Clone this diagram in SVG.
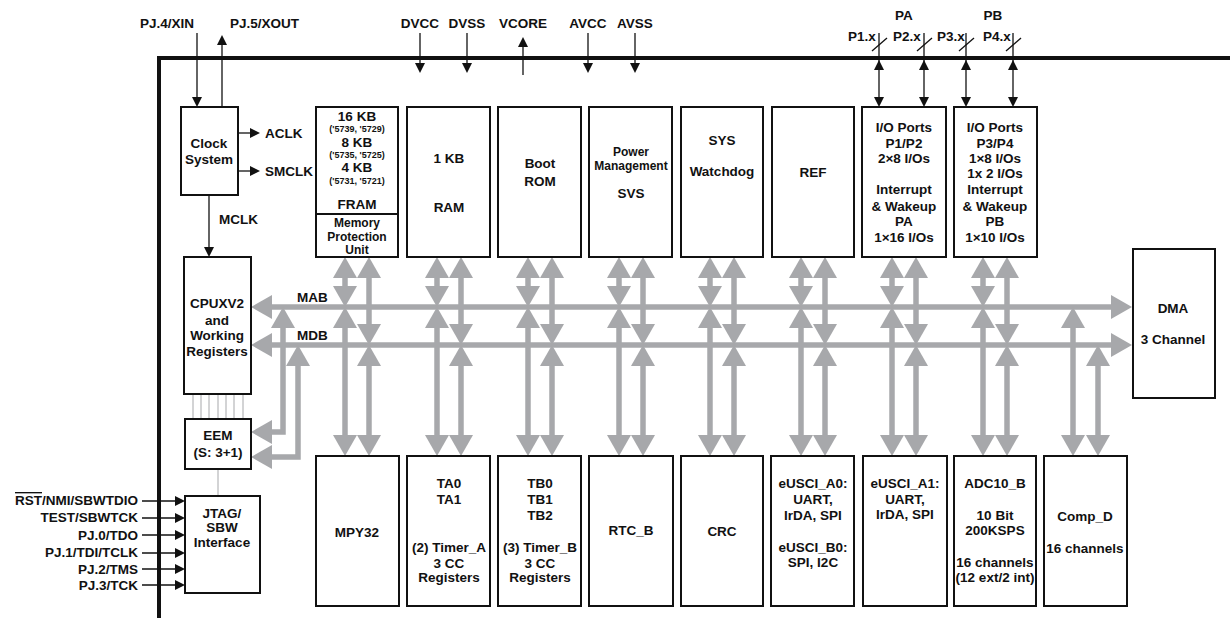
<svg xmlns="http://www.w3.org/2000/svg" width="1230" height="618" viewBox="0 0 1230 618">
<style>
text{font-family:"Liberation Sans",Arial,sans-serif;font-weight:bold;font-size:13.5px;fill:#111;}
.c{text-anchor:middle;}
.r{text-anchor:end;}
.s{font-size:9px;}
.m{font-size:12px;}
.box{fill:#fff;stroke:#111;stroke-width:2;}
.bus{stroke:#a7a8ab;stroke-width:5.5;fill:none;}
.bl{stroke:#111;stroke-width:1.3;fill:none;}
.thin{stroke:#a7a8ab;stroke-width:1;}
</style>
<defs>
<marker id="g" markerUnits="userSpaceOnUse" markerWidth="22" markerHeight="24" refX="0" refY="12" orient="auto-start-reverse" viewBox="0 0 22 24"><path d="M0,0 L21,12 L0,24 z" fill="#a7a8ab"/></marker>
<marker id="b" markerUnits="userSpaceOnUse" markerWidth="11" markerHeight="10" refX="0" refY="5" orient="auto-start-reverse" viewBox="0 0 11 10"><path d="M0,0 L10,5 L0,10 z" fill="#111"/></marker>
</defs>
<rect width="1230" height="618" fill="#fff"/>

<!-- chip boundary -->
<g id="chip">
<line x1="157" y1="58" x2="1230" y2="58" stroke="#111" stroke-width="4"/>
<line x1="159" y1="56" x2="159" y2="618" stroke="#111" stroke-width="4"/>
</g>

<!-- connectors -->
<g id="connectors">
<!-- buses -->
<line class="bus" x1="272" y1="307" x2="1111" y2="307" marker-start="url(#g)" marker-end="url(#g)"/>
<line class="bus" x1="272" y1="345" x2="1111" y2="345" marker-start="url(#g)" marker-end="url(#g)"/>
<!-- column verticals -->
<g class="bus">
<line x1="345" y1="278" x2="345" y2="286" marker-start="url(#g)" marker-end="url(#g)"/>
<line x1="345" y1="328" x2="345" y2="435" marker-start="url(#g)" marker-end="url(#g)"/>
<line x1="369" y1="278" x2="369" y2="324" marker-start="url(#g)" marker-end="url(#g)"/>
<line x1="369" y1="366" x2="369" y2="435" marker-start="url(#g)" marker-end="url(#g)"/>

<line x1="437" y1="278" x2="437" y2="286" marker-start="url(#g)" marker-end="url(#g)"/>
<line x1="437" y1="328" x2="437" y2="435" marker-start="url(#g)" marker-end="url(#g)"/>
<line x1="461" y1="278" x2="461" y2="324" marker-start="url(#g)" marker-end="url(#g)"/>
<line x1="461" y1="366" x2="461" y2="435" marker-start="url(#g)" marker-end="url(#g)"/>

<line x1="528" y1="278" x2="528" y2="286" marker-start="url(#g)" marker-end="url(#g)"/>
<line x1="528" y1="328" x2="528" y2="435" marker-start="url(#g)" marker-end="url(#g)"/>
<line x1="552" y1="278" x2="552" y2="324" marker-start="url(#g)" marker-end="url(#g)"/>
<line x1="552" y1="366" x2="552" y2="435" marker-start="url(#g)" marker-end="url(#g)"/>

<line x1="619" y1="278" x2="619" y2="286" marker-start="url(#g)" marker-end="url(#g)"/>
<line x1="619" y1="328" x2="619" y2="435" marker-start="url(#g)" marker-end="url(#g)"/>
<line x1="643" y1="278" x2="643" y2="324" marker-start="url(#g)" marker-end="url(#g)"/>
<line x1="643" y1="366" x2="643" y2="435" marker-start="url(#g)" marker-end="url(#g)"/>

<line x1="710" y1="278" x2="710" y2="286" marker-start="url(#g)" marker-end="url(#g)"/>
<line x1="710" y1="328" x2="710" y2="435" marker-start="url(#g)" marker-end="url(#g)"/>
<line x1="734" y1="278" x2="734" y2="324" marker-start="url(#g)" marker-end="url(#g)"/>
<line x1="734" y1="366" x2="734" y2="435" marker-start="url(#g)" marker-end="url(#g)"/>

<line x1="801" y1="278" x2="801" y2="286" marker-start="url(#g)" marker-end="url(#g)"/>
<line x1="801" y1="328" x2="801" y2="435" marker-start="url(#g)" marker-end="url(#g)"/>
<line x1="825" y1="278" x2="825" y2="324" marker-start="url(#g)" marker-end="url(#g)"/>
<line x1="825" y1="366" x2="825" y2="435" marker-start="url(#g)" marker-end="url(#g)"/>

<line x1="892" y1="278" x2="892" y2="286" marker-start="url(#g)" marker-end="url(#g)"/>
<line x1="892" y1="328" x2="892" y2="435" marker-start="url(#g)" marker-end="url(#g)"/>
<line x1="916" y1="278" x2="916" y2="324" marker-start="url(#g)" marker-end="url(#g)"/>
<line x1="916" y1="366" x2="916" y2="435" marker-start="url(#g)" marker-end="url(#g)"/>

<line x1="983" y1="278" x2="983" y2="286" marker-start="url(#g)" marker-end="url(#g)"/>
<line x1="983" y1="328" x2="983" y2="435" marker-start="url(#g)" marker-end="url(#g)"/>
<line x1="1007" y1="278" x2="1007" y2="324" marker-start="url(#g)" marker-end="url(#g)"/>
<line x1="1007" y1="366" x2="1007" y2="435" marker-start="url(#g)" marker-end="url(#g)"/>

<line x1="1073" y1="328" x2="1073" y2="435" marker-start="url(#g)" marker-end="url(#g)"/>
<line x1="1098" y1="366" x2="1098" y2="435" marker-start="url(#g)" marker-end="url(#g)"/>

<!-- EEM links -->
<path d="M272,432 H283 V328" marker-start="url(#g)" marker-end="url(#g)"/>
<path d="M272,457 H298 V366" marker-start="url(#g)" marker-end="url(#g)"/>
</g>
<!-- thin CPU-EEM lines -->
<g class="thin">
<line x1="193" y1="395" x2="193" y2="419"/>
<line x1="201" y1="395" x2="201" y2="419"/>
<line x1="209" y1="395" x2="209" y2="419"/>
<line x1="218" y1="395" x2="218" y2="419"/>
<line x1="226" y1="395" x2="226" y2="419"/>
<line x1="234" y1="395" x2="234" y2="419"/>
<line x1="243" y1="395" x2="243" y2="419"/>
<line x1="218" y1="469" x2="218" y2="496"/>
</g>
<!-- black arrows -->
<g class="bl">
<line x1="197" y1="33" x2="197" y2="97" marker-end="url(#b)"/>
<line x1="222" y1="107" x2="222" y2="45" marker-end="url(#b)"/>
<line x1="238" y1="133" x2="250" y2="133" marker-end="url(#b)"/>
<line x1="238" y1="171" x2="250" y2="171" marker-end="url(#b)"/>
<line x1="209" y1="195" x2="209" y2="247" marker-end="url(#b)"/>
<line x1="420" y1="33" x2="420" y2="63" marker-end="url(#b)"/>
<line x1="467" y1="33" x2="467" y2="63" marker-end="url(#b)"/>
<line x1="523" y1="75" x2="523" y2="47" marker-end="url(#b)"/>
<line x1="588" y1="33" x2="588" y2="63" marker-end="url(#b)"/>
<line x1="635" y1="33" x2="635" y2="63" marker-end="url(#b)"/>
<line x1="879" y1="33" x2="879" y2="97" marker-end="url(#b)"/>
<line x1="924" y1="33" x2="924" y2="97" marker-end="url(#b)"/>
<line x1="966" y1="33" x2="966" y2="97" marker-end="url(#b)"/>
<line x1="1013" y1="33" x2="1013" y2="97" marker-end="url(#b)"/>
<line x1="872" y1="51" x2="887" y2="38"/>
<line x1="917" y1="51" x2="932" y2="38"/>
<line x1="959" y1="51" x2="974" y2="38"/>
<line x1="1006" y1="51" x2="1021" y2="38"/>
<line x1="142" y1="501" x2="175" y2="501" marker-end="url(#b)"/>
<line x1="142" y1="518" x2="175" y2="518" marker-end="url(#b)"/>
<line x1="142" y1="535" x2="175" y2="535" marker-end="url(#b)"/>
<line x1="142" y1="553" x2="175" y2="553" marker-end="url(#b)"/>
<line x1="142" y1="569" x2="175" y2="569" marker-end="url(#b)"/>
<line x1="142" y1="585" x2="175" y2="585" marker-end="url(#b)"/>
</g>
<g fill="#111">
<path d="M874,70 L879,60 L884,70 z"/>
<path d="M919,70 L924,60 L929,70 z"/>
<path d="M961,70 L966,60 L971,70 z"/>
<path d="M1008,70 L1013,60 L1018,70 z"/>
</g>
</g>

<!-- external labels -->
<g id="labels">
<text x="140" y="28">PJ.4/XIN</text>
<text x="230" y="28">PJ.5/XOUT</text>
<text class="c" x="420" y="28">DVCC</text>
<text class="c" x="467" y="28">DVSS</text>
<text class="c" x="523" y="28">VCORE</text>
<text class="c" x="588" y="28">AVCC</text>
<text class="c" x="635" y="28">AVSS</text>
<text class="c" x="904" y="20">PA</text>
<text class="c" x="993" y="20">PB</text>
<text class="c" x="862" y="41">P1.x</text>
<text class="c" x="907" y="41">P2.x</text>
<text class="c" x="951" y="41">P3.x</text>
<text class="c" x="997" y="41">P4.x</text>
<text x="265" y="138">ACLK</text>
<text x="265" y="176">SMCLK</text>
<text x="219" y="224">MCLK</text>
<text x="297" y="302">MAB</text>
<text x="297" y="340">MDB</text>
<text class="r" x="138" y="505"><tspan text-decoration="overline">RST</tspan>/NMI/SBWTDIO</text>
<text class="r" x="138" y="522">TEST/SBWTCK</text>
<text class="r" x="138" y="540">PJ.0/TDO</text>
<text class="r" x="138" y="557">PJ.1/TDI/TCLK</text>
<text class="r" x="138" y="574">PJ.2/TMS</text>
<text class="r" x="138" y="590">PJ.3/TCK</text>
</g>

<!-- nodes -->
<g id="clock"><rect class="box" x="181" y="107" width="57" height="88"/>
<text class="c" x="209" y="148">Clock</text><text class="c" x="209" y="164">System</text></g>

<g id="fram"><rect class="box" x="316" y="107" width="82" height="150"/>
<line x1="316" y1="214" x2="398" y2="214" stroke="#111" stroke-width="2"/>
<text class="c" x="357" y="121">16 KB</text>
<text class="c s" x="357" y="132">('5739, '5729)</text>
<text class="c" x="357" y="147">8 KB</text>
<text class="c s" x="357" y="158">('5735, '5725)</text>
<text class="c" x="357" y="172">4 KB</text>
<text class="c s" x="357" y="184">('5731, '5721)</text>
<text class="c" x="357" y="209">FRAM</text>
<text class="c m" x="357" y="227">Memory</text>
<text class="c m" x="357" y="241">Protection</text>
<text class="c m" x="357" y="254">Unit</text></g>

<g id="ram"><rect class="box" x="407" y="107" width="83" height="150"/>
<text class="c" x="449" y="163">1 KB</text><text class="c" x="449" y="212">RAM</text></g>

<g id="bootrom"><rect class="box" x="498" y="107" width="83" height="150"/>
<text class="c" x="540" y="168">Boot</text><text class="c" x="540" y="186">ROM</text></g>

<g id="power"><rect class="box" x="589" y="107" width="83" height="150"/>
<text class="c m" x="631" y="156">Power</text><text class="c m" x="631" y="170">Management</text><text class="c" x="631" y="198">SVS</text></g>

<g id="sys"><rect class="box" x="681" y="107" width="82" height="150"/>
<text class="c" x="722" y="145">SYS</text><text class="c" x="722" y="176">Watchdog</text></g>

<g id="ref"><rect class="box" x="772" y="107" width="82" height="150"/>
<text class="c" x="813" y="177">REF</text></g>

<g id="io12"><rect class="box" x="862" y="107" width="84" height="150"/>
<text class="c" x="904" y="132">I/O Ports</text>
<text class="c" x="904" y="148">P1/P2</text>
<text class="c" x="904" y="163">2×8 I/Os</text>
<text class="c" x="904" y="194">Interrupt</text>
<text class="c" x="904" y="211">&amp; Wakeup</text>
<text class="c" x="904" y="226">PA</text>
<text class="c" x="904" y="242">1×16 I/Os</text></g>

<g id="io34"><rect class="box" x="954" y="107" width="83" height="150"/>
<text class="c" x="995" y="132">I/O Ports</text>
<text class="c" x="995" y="148">P3/P4</text>
<text class="c" x="995" y="163">1×8 I/Os</text>
<text class="c" x="995" y="178">1x 2 I/Os</text>
<text class="c" x="995" y="194">Interrupt</text>
<text class="c" x="995" y="211">&amp; Wakeup</text>
<text class="c" x="995" y="226">PB</text>
<text class="c" x="995" y="242">1×10 I/Os</text></g>

<g id="cpu"><rect class="box" x="184" y="257" width="67" height="137"/>
<text class="c" x="217" y="308">CPUXV2</text>
<text class="c" x="217" y="325">and</text>
<text class="c" x="217" y="340">Working</text>
<text class="c" x="217" y="356">Registers</text></g>

<g id="eem"><rect class="box" x="185" y="419" width="66" height="50"/>
<text class="c" x="218" y="440">EEM</text><text class="c" x="218" y="457">(S: 3+1)</text></g>

<g id="jtag"><rect class="box" x="185" y="496" width="75" height="97"/>
<text class="c" x="222" y="518">JTAG/</text><text class="c" x="222" y="532">SBW</text><text class="c" x="222" y="547">Interface</text></g>

<g id="dma"><rect class="box" x="1133" y="249" width="82" height="149"/>
<text class="c" x="1173" y="313">DMA</text><text class="c" x="1173" y="344">3 Channel</text></g>

<g id="mpy"><rect class="box" x="316" y="456" width="83" height="150"/>
<text class="c" x="357" y="537">MPY32</text></g>

<g id="ta"><rect class="box" x="407" y="456" width="83" height="150"/>
<text class="c" x="449" y="488">TA0</text><text class="c" x="449" y="504">TA1</text>
<text class="c" x="449" y="552">(2) Timer_A</text><text class="c" x="449" y="568">3 CC</text><text class="c" x="449" y="582">Registers</text></g>

<g id="tb"><rect class="box" x="498" y="456" width="83" height="150"/>
<text class="c" x="540" y="488">TB0</text><text class="c" x="540" y="504">TB1</text><text class="c" x="540" y="520">TB2</text>
<text class="c" x="540" y="552">(3) Timer_B</text><text class="c" x="540" y="568">3 CC</text><text class="c" x="540" y="582">Registers</text></g>

<g id="rtc"><rect class="box" x="589" y="456" width="84" height="150"/>
<text class="c" x="631" y="535">RTC_B</text></g>

<g id="crc"><rect class="box" x="681" y="456" width="82" height="150"/>
<text class="c" x="722" y="536">CRC</text></g>

<g id="usci0"><rect class="box" x="771" y="456" width="83" height="150"/>
<text class="c" x="813" y="488">eUSCI_A0:</text><text class="c" x="813" y="504">UART,</text><text class="c" x="813" y="520">IrDA, SPI</text>
<text class="c" x="813" y="552">eUSCI_B0:</text><text class="c" x="813" y="567">SPI, I2C</text></g>

<g id="usci1"><rect class="box" x="863" y="456" width="84" height="150"/>
<text class="c" x="905" y="488">eUSCI_A1:</text><text class="c" x="905" y="504">UART,</text><text class="c" x="905" y="519">IrDA, SPI</text></g>

<g id="adc"><rect class="box" x="954" y="456" width="82" height="150"/>
<text class="c" x="995" y="488">ADC10_B</text><text class="c" x="995" y="520">10 Bit</text><text class="c" x="995" y="535">200KSPS</text>
<text class="c" x="995" y="567">16 channels</text><text class="c" x="995" y="582">(12 ext/2 int)</text></g>

<g id="compd"><rect class="box" x="1044" y="456" width="83" height="150"/>
<text class="c" x="1085" y="521">Comp_D</text><text class="c" x="1085" y="553">16 channels</text></g>
</svg>
